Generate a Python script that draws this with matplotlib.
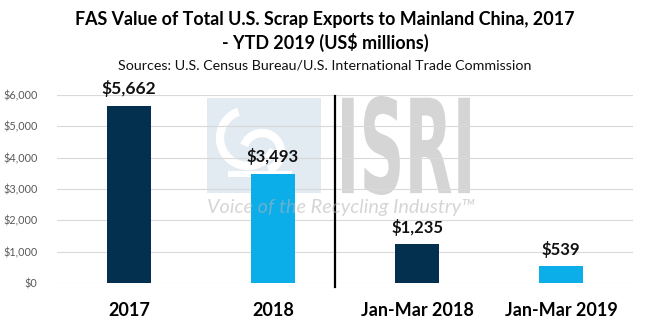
import matplotlib
matplotlib.use("Agg")
import matplotlib.pyplot as plt
from matplotlib.patches import Rectangle, PathPatch, Arc
from matplotlib.textpath import TextPath
from matplotlib.font_manager import FontProperties
from matplotlib.transforms import Affine2D
from matplotlib.ticker import FuncFormatter

# Data (US$ millions)
categories = ["2017", "2018", "Jan-Mar 2018", "Jan-Mar 2019"]
values = [5662, 3493, 1235, 539]
value_labels = ["$5,662", "$3,493", "$1,235", "$539"]
y_ticks = [0, 1000, 2000, 3000, 4000, 5000, 6000]

NAVY = "#04304F"
SKY = "#0CAEEA"
bar_colors = [NAVY, SKY, NAVY, SKY]

W, H, DPI = 650, 329, 100
plt.rcParams["font.family"] = ["Lato", "DejaVu Sans"]

fig = plt.figure(figsize=(W / DPI, H / DPI), dpi=DPI, facecolor="white")

# pixel coordinates measured from the top-left corner
px = Affine2D().scale(1, -1).translate(0, H)


def fx(x):
    return x / W


def fy(y):
    return 1 - y / H


renderer = fig.canvas.get_renderer()


def fit_width(t, target_px):
    w = t.get_window_extent(renderer).width
    t.set_fontsize(t.get_fontsize() * target_px / w)


# ---- watermark ----
box = Rectangle((207, 98), 114, 95, transform=px, facecolor="#E2EAF2",
                edgecolor="none", zorder=0)
fig.add_artist(box)
# stylised white emblem inside the box
for (cx, cy, r, t1, t2) in [(248, 138, 28, 25, 250), (262, 152, 19, 200, 430)]:
    a = Arc((cx, cy), 2 * r, 2 * r, theta1=t1, theta2=t2, transform=px,
            color="white", lw=6, zorder=0.5)
    fig.add_artist(a)
fig.add_artist(Rectangle((228, 171), 64, 6, transform=px, facecolor="white",
                         edgecolor="none", zorder=0.5))

isri = TextPath((0, 0), "ISRI", size=100,
                prop=FontProperties(family="DejaVu Sans", weight="bold"))
b = isri.get_extents()
sx = (470 - 342) / b.width
sy = (195 - 96) / b.height
isri_tf = (Affine2D().translate(-b.x0, -b.y0).scale(sx, sy)
           .translate(342, H - 195))
fig.add_artist(PathPatch(isri, transform=isri_tf, facecolor="#D5D5D5",
                         edgecolor="none", zorder=0))

# tagline sits over the bars, semi-transparent
voice = fig.text(fx(341), fy(208), "Voice of the Recycling Industry\u2122",
                 ha="center", va="center", style="italic", color="#B4B4B4",
                 alpha=0.55, fontsize=12, zorder=3)
fit_width(voice, 268)

# ---- axes ----
ax = fig.add_axes([fx(57), fy(283), (633 - 57) / W, (283 - 95) / H])
ax.set_facecolor("none")
ax.set_zorder(1)
x = list(range(len(categories)))
ax.bar(x, values, width=0.31, color=bar_colors, zorder=3)
ax.set_xlim(-0.5, 3.5)
ax.set_ylim(0, 6000)
ax.set_yticks(y_ticks)
ax.yaxis.set_major_formatter(FuncFormatter(lambda v, p: f"${v:,.0f}"))
ax.tick_params(axis="y", length=0, pad=14, labelsize=7.8, labelcolor="#595959")
ax.set_xticks(x)
ax.set_xticklabels(categories, fontweight="bold", fontsize=13)
ax.tick_params(axis="x", length=0, pad=14)
ax.grid(axis="y", color="#D9D9D9", lw=0.8, zorder=0)
for s in ax.spines.values():
    s.set_visible(False)

for i, (v, lab) in enumerate(zip(values, value_labels)):
    ax.annotate(lab, (i, v), xytext=(0, 8), textcoords="offset points",
                ha="center", va="baseline", fontsize=12.5 if i == 0 else 12,
                fontweight="bold", color="#111111", zorder=4)

# divider between annual and year-to-date figures
ax.axvline((335 - 57) / 144 - 0.5, ymin=-0.021, ymax=0.995, color="black",
           lw=1.6, clip_on=False, zorder=5)

# ---- titles ----
t1 = fig.text(0.5, fy(20), "FAS Value of Total U.S. Scrap Exports to Mainland China, 2017",
              ha="center", va="center", fontweight="bold", fontsize=14)
fit_width(t1, 501)
t2 = fig.text(0.5, fy(42), "- YTD 2019 (US$ millions)", ha="center",
              va="center", fontweight="bold", fontsize=t1.get_fontsize())
t3 = fig.text(0.5, fy(65), "Sources: U.S. Census Bureau/U.S. International Trade Commission",
              ha="center", va="center", fontsize=9, color="#111111")
fit_width(t3, 415)

fig.savefig("out.png", dpi=DPI, facecolor="white")
